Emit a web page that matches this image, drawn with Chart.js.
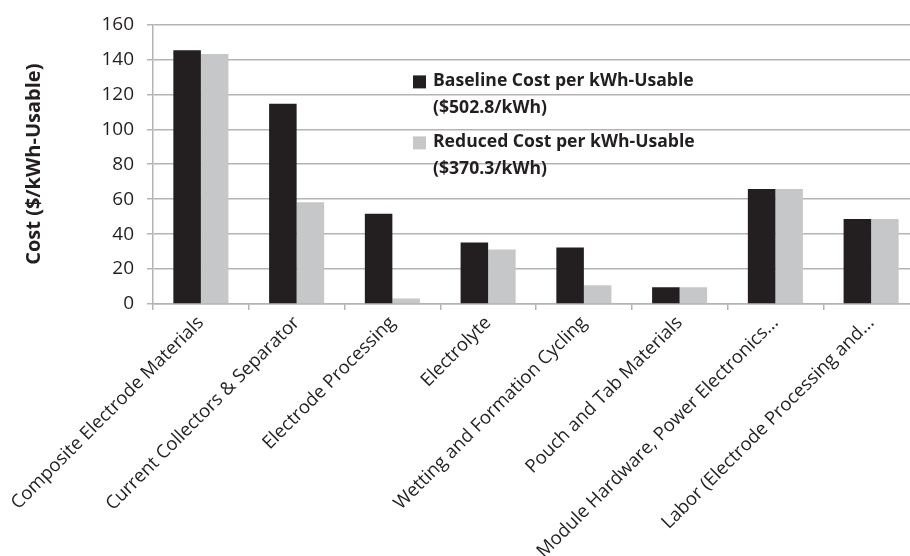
<!DOCTYPE html>
<html>
<head>
<meta charset="utf-8">
<script src="https://cdn.jsdelivr.net/npm/chart.js@4/dist/chart.umd.min.js"></script>
<style>
  html, body { margin: 0; padding: 0; background: #fff; overflow: hidden; }
  #wrap { width: 930px; height: 556px; position: relative; }
</style>
</head>
<body>
<div id="wrap"><canvas id="c"></canvas></div>
<script>
// Cost breakdown per kWh-usable, baseline vs reduced
const categories = [
  'Composite Electrode Materials',
  'Current Collectors & Separator',
  'Electrode Processing',
  'Electrolyte',
  'Wetting and Formation Cycling',
  'Pouch and Tab Materials',
  'Module Hardware, Power Electronics...',
  'Labor (Electrode Processing and...'
];
const baselineCost = [145.2, 114.6, 51.6, 35.2, 32.3, 9.6, 65.8, 48.6];
const reducedCost  = [143.0, 58.2, 3.2, 31.2, 10.8, 9.6, 65.8, 48.6];
const baselineLabel = ['Baseline Cost per kWh-Usable', '($502.8/kWh)'];
const reducedLabel  = ['Reduced Cost per kWh-Usable', '($370.3/kWh)'];
const yTicks = [0, 20, 40, 60, 80, 100, 120, 140, 160];
const yTitle = 'Cost ($/kWh-Usable)';

const FONT = '"Open Sans", "Liberation Sans", sans-serif';
const GRID = '#b4b4b4';

// Two-line legend drawn inside the plot area, transparent over the grid
const insideLegend = {
  id: 'insideLegend',
  afterDraw(chart) {
    const ctx = chart.ctx;
    const a = chart.chartArea;
    const x0 = a.left + 260;
    const rows = [a.top + 57, a.top + 118];
    ctx.save();
    ctx.font = 'bold 17.6px ' + FONT;
    ctx.textBaseline = 'middle';
    ctx.textAlign = 'left';
    chart.data.datasets.forEach((ds, i) => {
      const y = rows[i];
      ctx.fillStyle = ds.backgroundColor;
      ctx.fillRect(x0, y - 6, 13, 13);
      ctx.fillStyle = '#231f20';
      ds.label.forEach((line, j) => {
        ctx.fillText(line, x0 + 20, y + j * 27);
      });
    });
    ctx.restore();
  }
};

new Chart(document.getElementById('c'), {
  type: 'bar',
  data: {
    labels: categories,
    datasets: [
      { label: baselineLabel, data: baselineCost, backgroundColor: '#231f20' },
      { label: reducedLabel, data: reducedCost, backgroundColor: '#c6c7c9' }
    ]
  },
  options: {
    responsive: true,
    maintainAspectRatio: false,
    animation: false,
    devicePixelRatio: 1,
    layout: { padding: { top: 10, right: 11, left: 0, bottom: 0 } },
    datasets: {
      bar: { categoryPercentage: 0.575, barPercentage: 1.0 }
    },
    plugins: {
      legend: { display: false },
      tooltip: { enabled: false }
    },
    scales: {
      x: {
        grid: {
          display: true,
          drawOnChartArea: false,
          drawTicks: true,
          tickLength: 6,
          color: GRID,
          lineWidth: 1.5,
          offset: true
        },
        border: { color: GRID, width: 1.5 },
        ticks: {
          color: '#231f20',
          font: { family: FONT, size: 18.5 },
          maxRotation: 45,
          minRotation: 45,
          autoSkip: false,
          padding: 2
        },
        afterFit(scale) { scale.height = 556 - 304; }
      },
      y: {
        min: 0,
        max: 160,
        afterBuildTicks(scale) { scale.ticks = yTicks.map(v => ({ value: v })); },
        grid: { color: GRID, lineWidth: 1.5, tickLength: 6 },
        border: { color: GRID, width: 1.5 },
        ticks: {
          color: '#231f20',
          font: { family: FONT, size: 19 },
          padding: 13
        },
        title: {
          display: true,
          text: yTitle,
          color: '#231f20',
          font: { family: FONT, size: 20, weight: 'bold' },
          padding: { top: 22, bottom: 20 }
        },
        afterFit(scale) { scale.width = 153; }
      }
    }
  },
  plugins: [insideLegend]
});
</script>
</body>
</html>
